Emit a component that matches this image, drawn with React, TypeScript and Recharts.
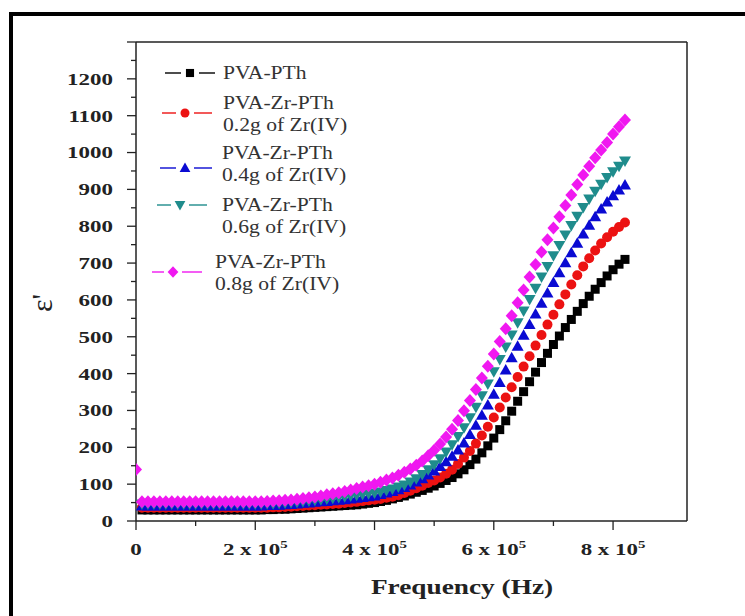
import React from 'react';
import {
  ScatterChart, Scatter, XAxis, YAxis, Legend, ReferenceLine,
} from 'recharts';

// frequency in kHz, one point every 10 kHz
const FREQ_KHZ = [
  10, 20, 30, 40, 50, 60, 70, 80, 90, 100,
  110, 120, 130, 140, 150, 160, 170, 180, 190, 200,
  210, 220, 230, 240, 250, 260, 270, 280, 290, 300,
  310, 320, 330, 340, 350, 360, 370, 380, 390, 400,
  410, 420, 430, 440, 450, 460, 470, 480, 490, 500,
  510, 520, 530, 540, 550, 560, 570, 580, 590, 600,
  610, 620, 630, 640, 650, 660, 670, 680, 690, 700,
  710, 720, 730, 740, 750, 760, 770, 780, 790, 800,
  810, 820,
];

const PVA_PTH = [
  30, 30, 30, 30, 30, 30, 30, 30, 30, 30,
  30, 30, 30, 30, 30, 30, 30, 30, 30, 30,
  30, 31, 31, 32, 32, 33, 34, 35, 36, 37,
  38, 39, 40, 41, 42, 43, 44, 46, 48, 50,
  53, 56, 60, 64, 68, 73, 78, 83, 89, 95,
  102, 110, 118, 128, 139, 153, 168, 185, 204, 225,
  248, 272, 298, 325, 351, 378, 404, 430, 455, 479,
  502, 525, 547, 569, 590, 610, 629, 647, 665, 682,
  697, 710,
];

const ZR_02 = [
  36, 36, 36, 36, 36, 36, 36, 36, 36, 36,
  36, 36, 36, 36, 36, 36, 36, 36, 36, 36,
  36, 36, 37, 37, 38, 39, 40, 41, 42, 43,
  44, 45, 46, 47, 49, 50, 52, 54, 56, 58,
  60, 63, 66, 70, 76, 82, 89, 96, 103, 110,
  118, 128, 139, 155, 172, 190, 210, 232, 256, 281,
  308, 335, 363, 391, 419, 447, 476, 505, 533, 560,
  588, 615, 642, 667, 691, 713, 734, 753, 770, 785,
  798, 810,
];

const ZR_04 = [
  41, 41, 41, 41, 41, 41, 41, 41, 41, 41,
  41, 41, 41, 41, 41, 41, 41, 41, 41, 41,
  41, 42, 42, 43, 44, 45, 46, 48, 49, 51,
  52, 53, 55, 56, 58, 60, 62, 64, 66, 68,
  72, 76, 80, 85, 91, 98, 106, 115, 125, 136,
  148, 161, 176, 193, 212, 235, 260, 287, 315, 344,
  376, 410, 443, 474, 504, 533, 562, 591, 619, 647,
  674, 701, 728, 754, 779, 803, 826, 847, 866, 883,
  898, 912,
];

const ZR_06 = [
  46, 46, 46, 46, 46, 46, 46, 46, 46, 46,
  46, 46, 46, 46, 46, 46, 46, 46, 46, 46,
  46, 47, 47, 48, 49, 50, 51, 53, 54, 56,
  58, 60, 62, 64, 66, 68, 70, 72, 74, 76,
  79, 83, 87, 92, 98, 106, 115, 126, 139, 153,
  169, 187, 207, 229, 253, 280, 309, 340, 372, 405,
  438, 472, 505, 538, 570, 601, 632, 662, 691, 720,
  748, 776, 802, 827, 851, 874, 895, 914, 932, 948,
  963, 977,
];

const ZR_08 = [
  52, 52, 52, 52, 52, 52, 52, 52, 52, 52,
  52, 52, 52, 52, 52, 52, 52, 52, 52, 52,
  52, 53, 54, 55, 56, 57, 59, 61, 63, 65,
  68, 71, 74, 77, 80, 84, 88, 92, 96, 100,
  105, 111, 117, 124, 132, 141, 151, 163, 177, 192,
  209, 228, 249, 273, 299, 327, 357, 388, 420, 453,
  487, 522, 557, 592, 627, 662, 696, 730, 763, 795,
  826, 856, 885, 913, 939, 963, 986, 1007, 1027, 1050,
  1070, 1088,
];
// the lone 0.8g point sitting on the y axis
const ZR_08_AT_ZERO = 140;

const Y_TICKS = [0, 50, 100, 150, 200, 250, 300, 350, 400, 450, 500, 550, 600, 650,
  700, 750, 800, 850, 900, 950, 1000, 1050, 1100, 1150, 1200, 1250, 1300];
const X_TICKS = [0, 100000, 200000, 300000, 400000, 500000, 600000, 700000, 800000];
const X_MAX = 924000;

const toRows = (vals: number[]) => vals.map((v, i) => ({ f: FREQ_KHZ[i] * 1000, v }));

const SERIES = [
  { key: 'pth', lines: ['PVA-PTh'], data: toRows(PVA_PTH), color: '#000000', kind: 'square' },
  { key: 'z02', lines: ['PVA-Zr-PTh', '0.2g of Zr(IV)'], data: toRows(ZR_02), color: '#ec1212', kind: 'circle' },
  { key: 'z04', lines: ['PVA-Zr-PTh', '0.4g of Zr(IV)'], data: toRows(ZR_04), color: '#0a0ad2', kind: 'up' },
  { key: 'z06', lines: ['PVA-Zr-PTh', '0.6g of Zr(IV)'], data: toRows(ZR_06), color: '#1f8c8c', kind: 'down' },
  { key: 'z08', lines: ['PVA-Zr-PTh', '0.8g of Zr(IV)'], data: [{ f: 0, v: ZR_08_AT_ZERO }, ...toRows(ZR_08)], color: '#f018f0', kind: 'diamond' },
];

const FONT = '"Liberation Serif", "Times New Roman", Times, serif';
const AXIS = '#222';

const Marker = ({ kind, cx, cy, color, s = 1 }: any) => {
  if (cx == null || cy == null) return <g />;
  switch (kind) {
    case 'square':
      return <rect x={cx - 4.5 * s} y={cy - 4.5 * s} width={9 * s} height={9 * s} fill={color} />;
    case 'circle':
      return <circle cx={cx} cy={cy} r={5 * s} fill={color} />;
    case 'up':
      return <polygon points={`${cx},${cy - 6 * s} ${cx + 6 * s},${cy + 4.5 * s} ${cx - 6 * s},${cy + 4.5 * s}`} fill={color} />;
    case 'down':
      return <polygon points={`${cx},${cy + 6 * s} ${cx + 6 * s},${cy - 4.5 * s} ${cx - 6 * s},${cy - 4.5 * s}`} fill={color} />;
    default:
      return <polygon points={`${cx},${cy - 6.5 * s} ${cx + 6 * s},${cy} ${cx},${cy + 6.5 * s} ${cx - 6 * s},${cy}`} fill={color} />;
  }
};

const YTick = ({ x, y, payload }: any) => {
  const v = payload.value;
  const major = v % 100 === 0;
  return (
    <g>
      <line x1={x - (major ? 9 : 5)} x2={x} y1={y} y2={y} stroke={AXIS} strokeWidth={1.3} />
      {major && v !== 1300 && (
        <text transform={`translate(${x - 23},${y}) scale(1.35,1)`} textAnchor="end" dy="0.35em"
          fontFamily={FONT} fontWeight="bold" fontSize={17} fill="#222">{v}</text>
      )}
    </g>
  );
};

const XTick = ({ x, y, payload }: any) => {
  const v = payload.value;
  const major = v % 200000 === 0;
  return (
    <g>
      <line x1={x} x2={x} y1={y} y2={y + (major ? 9 : 5)} stroke={AXIS} strokeWidth={1.3} />
      {major && (
        <text transform={`translate(${x},${y + 34}) scale(1.35,1)`} textAnchor="middle"
          fontFamily={FONT} fontWeight="bold" fontSize={17} fill="#222">
          {v === 0 ? '0' : (
            <>
              <tspan>{`${v / 100000} x 10`}</tspan>
              <tspan dy={-7} fontSize={11}>5</tspan>
            </>
          )}
        </text>
      )}
    </g>
  );
};

// legend layout, relative to its wrapper
const LEGEND_ROWS = [
  { mx: 40, my: 23, l: [15, 65], tx: 73, ty: [23] },
  { mx: 35, my: 63, l: [12, 62], tx: 73, ty: [53, 75] },
  { mx: 35, my: 118, l: [10, 62], tx: 72, ty: [103, 125] },
  { mx: 30, my: 155, l: [7, 57], tx: 72, ty: [155, 177] },
  { mx: 23, my: 222, l: [2, 52], tx: 65, ty: [212, 234] },
];

const LegendBox = () => (
  <svg width={240} height={260} style={{ display: 'block' }}>
    {SERIES.map((s, i) => {
      const r = LEGEND_ROWS[i];
      return (
        <g key={s.key}>
          <line x1={r.l[0]} x2={r.mx - 9} y1={r.my} y2={r.my} stroke={s.color} strokeWidth={1.4} />
          <line x1={r.mx + 9} x2={r.l[1]} y1={r.my} y2={r.my} stroke={s.color} strokeWidth={1.4} />
          <Marker kind={s.kind} cx={r.mx} cy={r.my} color={s.color} s={0.9} />
          {s.lines.map((t, j) => (
            <text key={j} transform={`translate(${r.tx},${r.ty[j]}) scale(1.2,1)`} dy="0.35em"
              fontFamily={FONT} fontSize={18} fill="#333">{t}</text>
          ))}
        </g>
      );
    })}
  </svg>
);

export default function App() {
  return (
    <div style={{ position: 'absolute', left: 0, top: 0, width: 745, height: 616, overflow: 'hidden', background: '#fff' }}>
      <div style={{ position: 'absolute', left: 9, top: 12, width: 800, height: 700, border: '4px solid #000' }} />
      <div style={{ position: 'absolute', left: 0, top: 0 }}>
        <ScatterChart width={745} height={616} margin={{ top: 42, right: 58, bottom: 55, left: 36 }}>
          <XAxis type="number" dataKey="f" domain={[0, X_MAX]} ticks={X_TICKS} interval={0}
            height={40} tickSize={0} tickMargin={0} tick={<XTick />}
            axisLine={{ stroke: AXIS, strokeWidth: 1.5 }} tickLine={false} allowDataOverflow />
          <YAxis type="number" dataKey="v" domain={[0, 1300]} ticks={Y_TICKS} interval={0}
            width={100} tickSize={0} tickMargin={0} tick={<YTick />}
            axisLine={{ stroke: AXIS, strokeWidth: 1.5 }} tickLine={false} allowDataOverflow />
          <ReferenceLine y={1300} stroke={AXIS} strokeWidth={1.5} />
          <ReferenceLine x={X_MAX} stroke={AXIS} strokeWidth={1.5} />
          {SERIES.map((s) => (
            <Scatter key={s.key} name={s.key} data={s.data} fill={s.color} isAnimationActive={false}
              shape={(p: any) => <Marker kind={s.kind} cx={p.cx} cy={p.cy} color={s.color} />} />
          ))}
          <Legend layout="vertical" align="center" verticalAlign="middle"
            wrapperStyle={{ left: 150, top: 50, width: 240, height: 260 }}
            content={() => <LegendBox />} />
        </ScatterChart>
      </div>
      <div style={{
        position: 'absolute', left: 462, top: 587, transform: 'translate(-50%,-50%) scaleX(1.3)',
        fontFamily: FONT, fontWeight: 'bold', fontSize: 21, color: '#222', whiteSpace: 'nowrap',
      }}>Frequency (Hz)</div>
      <div style={{
        position: 'absolute', left: 42, top: 303, transform: 'translate(-50%,-50%) rotate(-90deg)',
        fontFamily: FONT, fontSize: 30, color: '#222', whiteSpace: 'nowrap',
      }}>ε'</div>
    </div>
  );
}
